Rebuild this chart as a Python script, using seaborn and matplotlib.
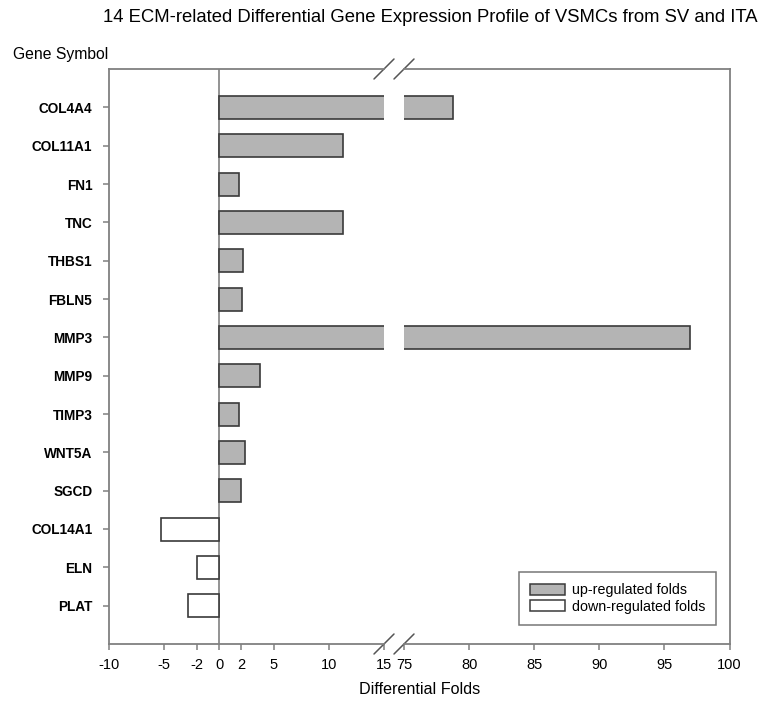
import matplotlib
matplotlib.use("Agg")
import matplotlib.pyplot as plt
from matplotlib.patches import Patch
import seaborn as sns
import pandas as pd

genes = ["COL4A4", "COL11A1", "FN1", "TNC", "THBS1", "FBLN5", "MMP3",
         "MMP9", "TIMP3", "WNT5A", "SGCD", "COL14A1", "ELN", "PLAT"]
folds = [78.8, 11.3, 1.85, 11.3, 2.15, 2.05, 97.0,
         3.75, 1.85, 2.35, 2.0, -5.3, -2.0, -2.85]
left_ticks = [-10, -5, -2, 0, 2, 5, 10, 15]
right_ticks = [75, 80, 85, 90, 95, 100]
up_label = "up-regulated folds"
down_label = "down-regulated folds"

df = pd.DataFrame({"gene": genes, "fold": folds})
df["direction"] = [up_label if v > 0 else down_label for v in folds]

sns.set_theme(style="white")
plt.rcParams["font.family"] = ["Liberation Sans", "DejaVu Sans"]
plt.rcParams["text.color"] = "black"
plt.rcParams["xtick.labelcolor"] = "black"
plt.rcParams["ytick.labelcolor"] = "black"

UP_COLOR = "#b4b4b4"
EDGE = "#3a3a3a"
AXIS = "#808080"
palette = {up_label: UP_COLOR, down_label: "white"}

W, H = 769, 707
fig = plt.figure(figsize=(W / 100, H / 100), dpi=100)
top_px, bot_px = 69, 644
l0, l1 = 109, 384
r0, r1 = 404, 729.5
yb = 1 - bot_px / H
hh = (bot_px - top_px) / H
ax1 = fig.add_axes([l0 / W, yb, (l1 - l0) / W, hh])
ax2 = fig.add_axes([r0 / W, yb, (r1 - r0) / W, hh])

for ax in (ax1, ax2):
    sns.barplot(data=df, x="fold", y="gene", hue="direction", palette=palette,
                dodge=False, orient="h", width=0.6, edgecolor=EDGE,
                linewidth=1.2, legend=False, ax=ax)
    ax.set_ylim(14, -1)
    ax.axvline(0, color=AXIS, lw=1.2, zorder=0)
    ax.set_xlabel("")
    ax.set_ylabel("")
    for sp in ax.spines.values():
        sp.set_color(AXIS)
        sp.set_linewidth(1.3)
    ax.tick_params(axis="x", direction="out", length=4, width=1.1,
                   color=AXIS, labelsize=10.5, pad=6, bottom=True)

ax1.set_xlim(-10, 15)
ax1.set_xticks(left_ticks)
ax1.set_xticklabels([str(t) for t in left_ticks])
ax1.spines["right"].set_visible(False)
ax1.set_yticks(range(len(genes)))
ax1.set_yticklabels(genes, fontweight="bold", fontsize=9.8)
ax1.tick_params(axis="y", direction="out", length=4, width=1.1,
                color=AXIS, pad=8, left=True)

ax2.set_xlim(75, 100)
ax2.set_xticks(right_ticks)
ax2.set_xticklabels([str(t) for t in right_ticks])
ax2.spines["left"].set_visible(False)
ax2.set_yticks([])

# break marks on the split x-axis
dy = 10 / (bot_px - top_px)
dx1 = 10 / (l1 - l0)
dx2 = 10 / (r1 - r0)
kw = dict(color="#555555", lw=1.1, clip_on=False)
for y in (0, 1):
    ax1.plot([1 - dx1, 1 + dx1], [y - dy, y + dy], transform=ax1.transAxes, **kw)
    ax2.plot([-dx2, dx2], [y - dy, y + dy], transform=ax2.transAxes, **kw)

handles = [Patch(facecolor=UP_COLOR, edgecolor=EDGE, linewidth=1.1, label=up_label),
           Patch(facecolor="white", edgecolor=EDGE, linewidth=1.1, label=down_label)]
leg = ax2.legend(handles=handles, loc="lower right", bbox_to_anchor=(0.982, 0.02),
                 fontsize=10.3, frameon=True, fancybox=False, handlelength=2.4,
                 handleheight=0.8, borderpad=0.8, labelspacing=0.2,
                 handletextpad=0.5)
leg.get_frame().set_edgecolor("#555555")
leg.get_frame().set_linewidth(1.1)

fig.text(430 / W, 1 - 18 / H, "14 ECM-related Differential Gene Expression Profile of VSMCs from SV and ITA",
         ha="center", va="center", fontsize=13.3)
fig.text(13 / W, 1 - 55 / H, "Gene Symbol", ha="left", va="center", fontsize=11.3)
fig.text(420 / W, 1 - 690 / H, "Differential Folds", ha="center", va="center", fontsize=11.6)

fig.savefig("out.png", dpi=100)
